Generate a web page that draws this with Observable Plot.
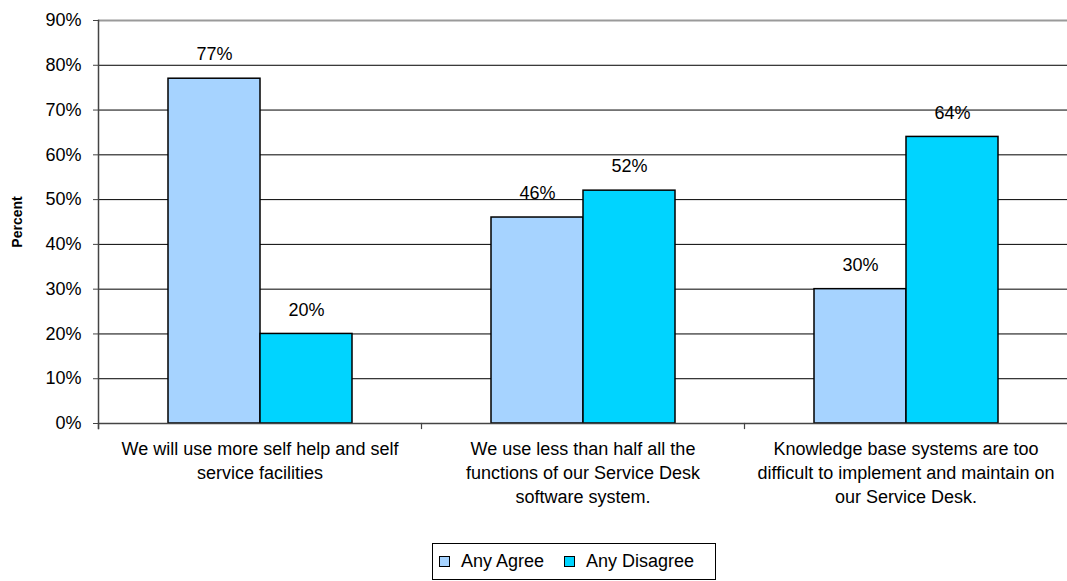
<!DOCTYPE html>
<html>
<head>
<meta charset="utf-8">
<script src="https://cdn.jsdelivr.net/npm/d3@7"></script>
<script src="https://cdn.jsdelivr.net/npm/@observablehq/plot@0.6"></script>
<style>
  html, body { margin: 0; padding: 0; background: #fff; }
  body { position: relative; width: 1067px; height: 581px; overflow: hidden; font-family: "Liberation Sans", Arial, sans-serif; }
  #legend { position: absolute; left: 432px; top: 543px; width: 284px; height: 37px; border: 1px solid #000;
    display: flex; align-items: center; font-size: 18px; color: #000; box-sizing: border-box; padding-left: 6px; }
  .sw { width: 9px; height: 9px; border: 1.5px solid #000; margin-right: 11px; }
  .item { display: flex; align-items: center; margin-right: 20px; }
</style>
</head>
<body>
<div id="chart"></div>
<div id="legend"></div>
<script>
const categories = [
  "We will use more self help and self\nservice facilities",
  "We use less than half all the\nfunctions of our Service Desk\nsoftware system.",
  "Knowledge base systems are too\ndifficult to implement and maintain on\nour Service Desk."
];
const series = ["Any Agree", "Any Disagree"];
const agreeValues = [77, 46, 30];
const disagreeValues = [20, 52, 64];
const yTicks = [0, 10, 20, 30, 40, 50, 60, 70, 80, 90];
const seriesColors = ["#A6D3FF", "#00D4FF"];
const yTitle = "Percent";

const data = categories.flatMap((c, i) => [
  {category: c, series: series[0], value: agreeValues[i]},
  {category: c, series: series[1], value: disagreeValues[i]}
]);

const W = 1067, H = 540, mT = 20, mB = 117, mL = 97, mR = 0;
const plotH = H - mT - mB;

const chart = Plot.plot({
  width: W, height: H,
  marginTop: mT, marginBottom: mB, marginLeft: mL, marginRight: mR,
  style: {fontFamily: "'Liberation Sans', Arial, sans-serif", fontSize: "18px", color: "#000", background: "#fff"},
  fx: {domain: categories, padding: 0, label: null},
  x: {domain: series, paddingInner: 0, paddingOuter: 0.74, axis: null},
  y: {domain: [0, 90], label: null},
  color: {domain: series, range: seriesColors},
  marks: [
    Plot.ruleY(yTicks.filter(t => t > 0 && t < 90), {stroke: "#000", strokeWidth: 1}),
    Plot.ruleY([90], {stroke: "#9a9a9a", strokeWidth: 2}),
    Plot.barY(data, {fx: "category", x: "series", y: "value", fill: "series", stroke: "#000", strokeWidth: 1.5}),
    Plot.ruleY([0], {stroke: "#444", strokeWidth: 1.5}),
    Plot.frame({anchor: "left", facetAnchor: "left", stroke: "#444", strokeWidth: 1.5, insetBottom: -5}),
    Plot.frame({anchor: "left", stroke: "#444", strokeWidth: 1.2, insetTop: plotH, insetBottom: -5}),
    Plot.text(data, {fx: "category", x: "series", y: "value", text: d => d.value + "%", dy: -24, fontSize: 18, fill: "#000"}),
    Plot.axisY({ticks: yTicks, tickFormat: d => d + "%", tickSize: 5, tickPadding: 12, fontSize: 18, label: null, stroke: "#444"}),
    Plot.axisFx({anchor: "bottom", tickSize: 0, tickPadding: 15, fontSize: 18, lineHeight: 1.33, label: null, tickFormat: d => d}),
    Plot.text([yTitle], {frameAnchor: "left", facetAnchor: "left", textAnchor: "middle", rotate: -90, dx: -81, fontWeight: "bold", fontSize: 14, fill: "#000"})
  ]
});
document.getElementById("chart").appendChild(chart);

const legend = document.getElementById("legend");
series.forEach((s, i) => {
  const item = document.createElement("div");
  item.className = "item";
  const sw = document.createElement("div");
  sw.className = "sw";
  sw.style.background = seriesColors[i];
  const lab = document.createElement("span");
  lab.textContent = s;
  item.appendChild(sw);
  item.appendChild(lab);
  legend.appendChild(item);
});
</script>
</body>
</html>
